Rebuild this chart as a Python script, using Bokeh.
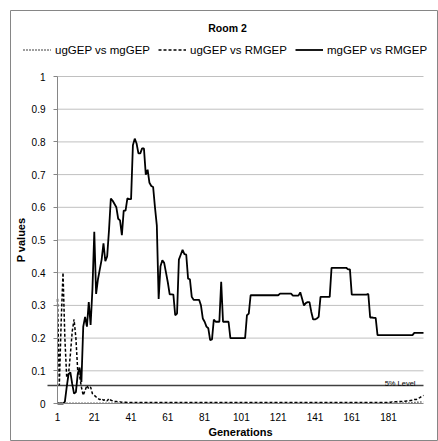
from bokeh.plotting import figure
from bokeh.models import ColumnDataSource, Range1d, FixedTicker, Label, Legend, LegendItem
from bokeh.embed import file_html
from bokeh.resources import INLINE

title_text = "Room 2"
series_names = ["ugGEP vs mgGEP", "ugGEP vs RMGEP", "mgGEP vs RMGEP"]
generations = list(range(1, 201))

ug_vs_mg = [
    0.001, 0.001, 0.001, 0.001, 0.001, 0.001, 0.001, 0.001, 0.001, 0.001,
    0.001, 0.001, 0.001, 0.001, 0.001, 0.001, 0.001, 0.001, 0.001, 0.001,
    0.001, 0.001, 0.001, 0.001, 0.001, 0.001, 0.001, 0.001, 0.001, 0.001,
    0.001, 0.001, 0.001, 0.001, 0.001, 0.001, 0.001, 0.001, 0.001, 0.001,
    0.001, 0.001, 0.001, 0.001, 0.001, 0.001, 0.001, 0.001, 0.001, 0.001,
    0.001, 0.001, 0.001, 0.001, 0.001, 0.001, 0.001, 0.001, 0.001, 0.001,
    0.001, 0.001, 0.001, 0.001, 0.001, 0.001, 0.001, 0.001, 0.001, 0.001,
    0.001, 0.001, 0.001, 0.001, 0.001, 0.001, 0.001, 0.001, 0.001, 0.001,
    0.001, 0.001, 0.001, 0.001, 0.001, 0.001, 0.001, 0.001, 0.001, 0.001,
    0.001, 0.001, 0.001, 0.001, 0.001, 0.001, 0.001, 0.001, 0.001, 0.001,
    0.001, 0.001, 0.001, 0.001, 0.001, 0.001, 0.001, 0.001, 0.001, 0.001,
    0.001, 0.001, 0.001, 0.001, 0.001, 0.001, 0.001, 0.001, 0.001, 0.001,
    0.001, 0.001, 0.001, 0.001, 0.001, 0.001, 0.001, 0.001, 0.001, 0.001,
    0.001, 0.001, 0.001, 0.001, 0.001, 0.001, 0.001, 0.001, 0.001, 0.001,
    0.001, 0.001, 0.001, 0.001, 0.001, 0.001, 0.001, 0.001, 0.001, 0.001,
    0.001, 0.001, 0.001, 0.001, 0.001, 0.001, 0.001, 0.001, 0.001, 0.001,
    0.001, 0.001, 0.001, 0.001, 0.001, 0.001, 0.001, 0.001, 0.001, 0.001,
    0.001, 0.001, 0.001, 0.001, 0.001, 0.001, 0.001, 0.001, 0.001, 0.001,
    0.001, 0.001, 0.001, 0.001, 0.001, 0.001, 0.001, 0.001, 0.002, 0.002,
    0.002, 0.002, 0.002, 0.003, 0.003, 0.003, 0.004, 0.004, 0.005, 0.005,
]

ug_vs_rm = [
    0.32, 0.056, 0.25, 0.40, 0.20, 0.08, 0.09, 0.15, 0.22, 0.257,
    0.20, 0.10, 0.085, 0.05, 0.025, 0.04, 0.055, 0.045, 0.05, 0.03,
    0.025, 0.02, 0.015, 0.012, 0.015, 0.01, 0.012, 0.008, 0.015, 0.01,
    0.008, 0.006, 0.006, 0.005, 0.005, 0.004, 0.004, 0.004, 0.003, 0.003,
    0.003, 0.003, 0.003, 0.003, 0.003, 0.003, 0.003, 0.003, 0.003, 0.003,
    0.003, 0.003, 0.003, 0.003, 0.003, 0.003, 0.003, 0.003, 0.003, 0.003,
    0.003, 0.003, 0.003, 0.003, 0.003, 0.003, 0.003, 0.003, 0.003, 0.003,
    0.003, 0.003, 0.003, 0.003, 0.003, 0.003, 0.003, 0.003, 0.003, 0.003,
    0.003, 0.003, 0.003, 0.003, 0.003, 0.003, 0.003, 0.003, 0.003, 0.003,
    0.003, 0.003, 0.003, 0.003, 0.003, 0.003, 0.003, 0.003, 0.003, 0.003,
    0.003, 0.003, 0.003, 0.003, 0.003, 0.003, 0.003, 0.003, 0.003, 0.003,
    0.003, 0.003, 0.003, 0.003, 0.003, 0.003, 0.003, 0.003, 0.003, 0.003,
    0.003, 0.003, 0.003, 0.003, 0.003, 0.003, 0.003, 0.003, 0.003, 0.003,
    0.003, 0.003, 0.003, 0.003, 0.003, 0.003, 0.003, 0.003, 0.003, 0.003,
    0.003, 0.003, 0.003, 0.003, 0.003, 0.003, 0.003, 0.003, 0.003, 0.003,
    0.003, 0.003, 0.003, 0.003, 0.003, 0.003, 0.003, 0.003, 0.003, 0.003,
    0.003, 0.003, 0.003, 0.003, 0.003, 0.003, 0.003, 0.003, 0.003, 0.003,
    0.003, 0.003, 0.003, 0.003, 0.003, 0.003, 0.003, 0.003, 0.003, 0.003,
    0.004, 0.004, 0.005, 0.005, 0.005, 0.006, 0.006, 0.006, 0.007, 0.007,
    0.008, 0.008, 0.009, 0.010, 0.012, 0.012, 0.015, 0.018, 0.022, 0.025,
]

mg_vs_rm = [
    0.0, 0.0, 0.0, 0.0, 0.005, 0.05, 0.09, 0.095, 0.06, 0.03,
    0.035, 0.09, 0.11, 0.066, 0.235, 0.265, 0.235, 0.31, 0.24, 0.35,
    0.525, 0.335, 0.38, 0.41, 0.44, 0.49, 0.435, 0.45, 0.53, 0.627,
    0.62, 0.61, 0.60, 0.565, 0.56, 0.515, 0.59, 0.59, 0.627, 0.625,
    0.625, 0.79, 0.81, 0.795, 0.765, 0.765, 0.78, 0.78, 0.70, 0.715,
    0.675, 0.665, 0.662, 0.60, 0.545, 0.32, 0.42, 0.438, 0.43, 0.40,
    0.37, 0.334, 0.334, 0.333, 0.27, 0.275, 0.44, 0.455, 0.47, 0.457,
    0.455, 0.382, 0.38, 0.326, 0.317, 0.317, 0.317, 0.317, 0.30, 0.26,
    0.25, 0.235, 0.23, 0.194, 0.196, 0.257, 0.25, 0.25, 0.25, 0.372,
    0.25, 0.25, 0.25, 0.25, 0.20, 0.20, 0.20, 0.20, 0.20, 0.20,
    0.20, 0.20, 0.20, 0.27, 0.275, 0.331, 0.331, 0.331, 0.331, 0.331,
    0.331, 0.331, 0.331, 0.331, 0.331, 0.331, 0.331, 0.331, 0.331, 0.331,
    0.331, 0.336, 0.336, 0.336, 0.336, 0.336, 0.336, 0.336, 0.33, 0.33,
    0.33, 0.33, 0.34, 0.32, 0.30, 0.307, 0.31, 0.31, 0.28, 0.257,
    0.257, 0.26, 0.265, 0.326, 0.326, 0.326, 0.326, 0.326, 0.326, 0.415,
    0.415, 0.415, 0.415, 0.415, 0.415, 0.415, 0.415, 0.415, 0.41, 0.41,
    0.333, 0.333, 0.333, 0.333, 0.333, 0.333, 0.333, 0.333, 0.333, 0.335,
    0.263, 0.263, 0.262, 0.262, 0.209, 0.209, 0.209, 0.209, 0.209, 0.209,
    0.209, 0.209, 0.209, 0.209, 0.209, 0.209, 0.209, 0.209, 0.209, 0.209,
    0.209, 0.209, 0.209, 0.209, 0.216, 0.216, 0.216, 0.216, 0.216, 0.216,
]

x_ticks = [1, 21, 41, 61, 81, 101, 121, 141, 161, 181]
y_ticks = [0, 0.1, 0.2, 0.3, 0.4, 0.5, 0.6, 0.7, 0.8, 0.9, 1]
y_tick_labels = ["0", "0.1", "0.2", "0.3", "0.4", "0.5", "0.6", "0.7", "0.8", "0.9", "1"]
level_value = 0.055
level_text = "5% Level"

FONT = "Liberation Sans"

# ---- page layout (pixels) ----
W, H = 438, 441
FRAME_L, FRAME_T = 10, 10        # the frame is the chart box; its outline is the box border
AX_L, AX_R = 57, 423             # pixel x of first / last generation
AX_T, AX_B = 76, 403             # pixel y of value 1 / value 0

kx = (AX_R - AX_L) / (generations[-1] - generations[0])
ky = (AX_B - AX_T) / (y_ticks[-1] - y_ticks[0])

def px_to_x(px):
    return generations[0] + (px - AX_L) / kx

def py_to_y(py):
    return y_ticks[0] + (AX_B - py) / ky

x_range = Range1d(px_to_x(FRAME_L), px_to_x(W))
y_range = Range1d(py_to_y(H), py_to_y(FRAME_T))

source = ColumnDataSource(dict(g=generations, a=ug_vs_mg, b=ug_vs_rm, c=mg_vs_rm))

p = figure(width=W, height=H, output_backend="svg", toolbar_location=None, title=None,
           x_range=x_range, y_range=y_range,
           min_border_left=FRAME_L, min_border_top=FRAME_T,
           min_border_right=0, min_border_bottom=0)
p.outline_line_color = "#868686"
p.outline_line_width = 1
p.background_fill_color = "white"
p.border_fill_color = "white"
p.xgrid.grid_line_color = None
p.ygrid.grid_line_color = None

# horizontal gridlines, only across the plot area
n = len(y_ticks) - 1
p.segment(x0=[generations[0]] * n, x1=[generations[-1]] * n,
          y0=y_ticks[1:], y1=y_ticks[1:], line_color="#c0c0c0", line_width=1)

# 5% level line and label
p.segment(x0=[px_to_x(47)], x1=[generations[-1]], y0=[level_value], y1=[level_value],
          line_color="#404040", line_width=1.5)
p.add_layout(Label(x=px_to_x(415), y=py_to_y(383), text=level_text, text_align="right",
                   text_baseline="alphabetic", text_font=FONT, text_font_size="7.5px",
                   text_color="black"))

r1 = p.line("g", "a", source=source, line_color="black", line_width=1.4, line_dash="1 2")
r2 = p.line("g", "b", source=source, line_color="black", line_width=1.5, line_dash="3 2")
r3 = p.line("g", "c", source=source, line_color="black", line_width=1.8)

# title
p.add_layout(Label(x=px_to_x(227), y=py_to_y(27), text=title_text, text_align="center",
                   text_baseline="middle", text_font=FONT, text_font_size="10.5px",
                   text_font_style="bold", text_color="black"))

legend = Legend(items=[LegendItem(label=series_names[0], renderers=[r1]),
                       LegendItem(label=series_names[1], renderers=[r2]),
                       LegendItem(label=series_names[2], renderers=[r3])],
                orientation="horizontal", location=(23 - FRAME_L, H - 56),
                label_text_font=FONT, label_text_font_size="11.5px", label_text_color="black",
                glyph_width=28, glyph_height=13, label_height=13, label_standoff=4,
                spacing=8, padding=2, margin=0, border_line_color=None,
                background_fill_alpha=0)
p.add_layout(legend)

# axes, placed at value 0 / generation 1 inside the frame
p.xaxis.fixed_location = y_ticks[0]
p.yaxis.fixed_location = generations[0]
p.xaxis.bounds = (generations[0], generations[-1])
p.yaxis.bounds = (y_ticks[0], y_ticks[-1])
p.xaxis.ticker = FixedTicker(ticks=x_ticks)
p.yaxis.ticker = FixedTicker(ticks=y_ticks)
p.yaxis.major_label_overrides = dict(zip(y_ticks, y_tick_labels))
p.xaxis.axis_label = "Generations"
p.yaxis.axis_label = "P values"
for ax in (p.xaxis, p.yaxis):
    ax.axis_line_color = "#868686"
    ax.major_tick_line_color = "#868686"
    ax.minor_tick_line_color = None
    ax.major_tick_in = 0
    ax.major_label_text_font = FONT
    ax.major_label_text_font_size = "10px"
    ax.major_label_text_color = "black"
    ax.axis_label_text_font = FONT
    ax.axis_label_text_font_size = "11px"
    ax.axis_label_text_font_style = "bold"
    ax.axis_label_text_color = "black"
p.xaxis.major_tick_out = 0
p.xaxis.major_label_standoff = 9
p.yaxis.major_tick_out = 4
p.yaxis.major_label_standoff = 8
p.xaxis.axis_label_standoff = 2
p.yaxis.axis_label_standoff = 2

open("out.html", "w").write(file_html(p, INLINE))
